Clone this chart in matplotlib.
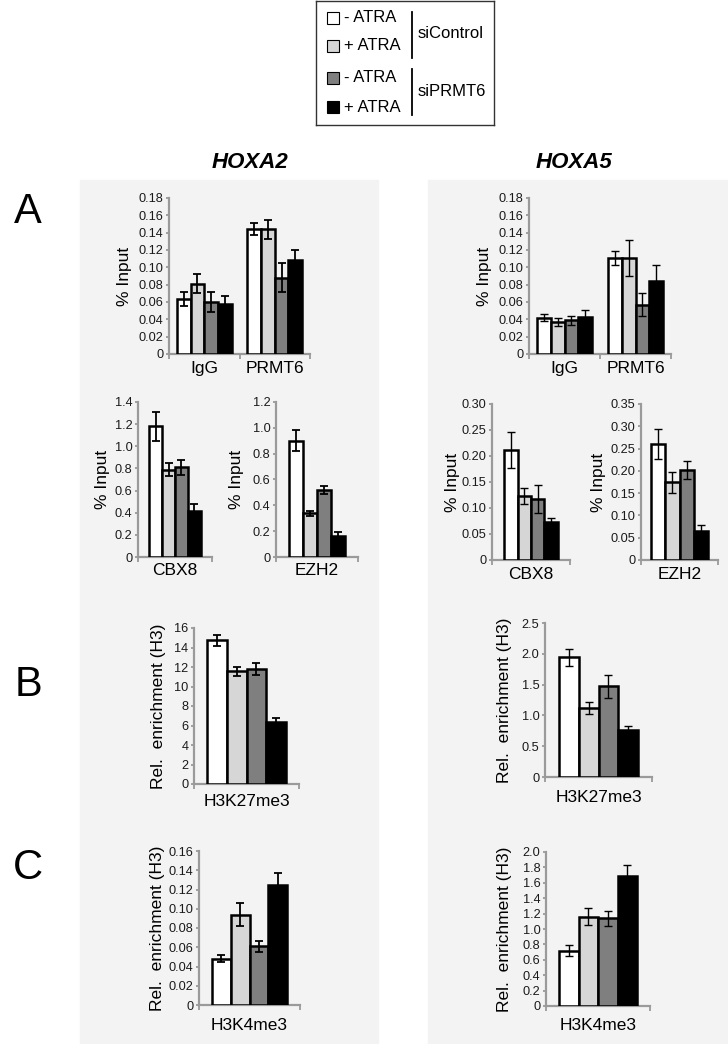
import matplotlib
matplotlib.use('Agg')
import matplotlib.pyplot as plt
from matplotlib.patches import Rectangle
import numpy as np

plt.rcParams['font.family'] = ['Liberation Sans', 'DejaVu Sans']

# conditions: siControl -ATRA, siControl +ATRA, siPRMT6 -ATRA, siPRMT6 +ATRA
conditions = ['- ATRA', '+ ATRA', '- ATRA', '+ ATRA']
colors = ['white', '#d6d6d6', '#7f7f7f', 'black']

# A, top row (IgG / PRMT6)
top_cats = ['IgG', 'PRMT6']
a2_top_vals = [[0.063, 0.081, 0.060, 0.058], [0.144, 0.144, 0.088, 0.109]]
a2_top_err = [[0.008, 0.011, 0.012, 0.009], [0.007, 0.011, 0.017, 0.011]]
a5_top_vals = [[0.042, 0.037, 0.039, 0.043], [0.111, 0.111, 0.057, 0.084]]
a5_top_err = [[0.004, 0.005, 0.005, 0.008], [0.008, 0.021, 0.013, 0.019]]

# A, bottom row (CBX8 / EZH2)
a2_cbx8_vals = [1.18, 0.79, 0.81, 0.42]
a2_cbx8_err = [0.13, 0.055, 0.065, 0.055]
a2_ezh2_vals = [0.90, 0.34, 0.52, 0.16]
a2_ezh2_err = [0.08, 0.02, 0.03, 0.03]
a5_cbx8_vals = [0.212, 0.123, 0.118, 0.074]
a5_cbx8_err = [0.035, 0.015, 0.027, 0.007]
a5_ezh2_vals = [0.261, 0.174, 0.202, 0.064]
a5_ezh2_err = [0.034, 0.023, 0.020, 0.014]

# B (H3K27me3)
a2_k27_vals = [14.75, 11.55, 11.8, 6.35]
a2_k27_err = [0.55, 0.5, 0.65, 0.4]
a5_k27_vals = [1.94, 1.12, 1.47, 0.77]
a5_k27_err = [0.13, 0.10, 0.18, 0.06]

# C (H3K4me3)
a2_k4_vals = [0.048, 0.094, 0.061, 0.125]
a2_k4_err = [0.0035, 0.0115, 0.006, 0.012]
a5_k4_vals = [0.72, 1.16, 1.14, 1.69]
a5_k4_err = [0.07, 0.11, 0.10, 0.14]

W, H = 728, 1044
fig = plt.figure(figsize=(W / 100, H / 100), dpi=100)
spine = '#9a9a9a'


def px(x0, y0, x1, y1):
    # pixel box -> figure fraction
    return [x0 / W, 1 - y1 / H, (x1 - x0) / W, (y1 - y0) / H]


# grey background panels
for x0, x1 in [(80, 378), (428, 728)]:
    fig.patches.append(Rectangle((x0 / W, 0), (x1 - x0) / W, 1 - 180 / H,
                                 transform=fig.transFigure, color='#f3f3f3', zorder=-5))


def bars(box, cats, vals, errs, ymax, step, dec, frac, ylabel, label_x, xpad, elw):
    ax = fig.add_axes(px(*box))
    ax.set_facecolor('none')
    vals = np.atleast_2d(vals)
    errs = np.atleast_2d(errs)
    n = len(cats)
    w = frac / 4
    x = np.arange(n)
    for i in range(4):
        ax.bar(x - frac / 2 + w * (i + 0.5), vals[:, i], w, yerr=errs[:, i],
               color=colors[i], edgecolor='black', linewidth=1.8, zorder=3,
               error_kw=dict(ecolor='black', elinewidth=elw, capsize=2.9, capthick=elw, zorder=4))
    ax.set_xlim(-0.5, n - 0.5)
    ax.set_ylim(0, ymax)
    ticks = np.arange(0, ymax + step / 2, step)
    ax.set_yticks(ticks)
    ax.set_yticklabels(['0' if t == 0 else f'{t:.{dec}f}' for t in ticks])
    ax.set_xticks(x)
    ax.set_xticklabels(cats, fontsize=12.5)
    ax.set_xticks(np.arange(n + 1) - 0.5, minor=True)
    ax.tick_params(axis='x', which='major', length=0, pad=xpad)
    ax.tick_params(axis='x', which='minor', length=3.5, width=1.3, color=spine)
    ax.tick_params(axis='y', length=2.5, width=1.3, color=spine, labelsize=9.2,
                   pad=1.5, labelcolor='#1a1a1a')
    for s in ['top', 'right']:
        ax.spines[s].set_visible(False)
    for s in ['left', 'bottom']:
        ax.spines[s].set_color(spine)
        ax.spines[s].set_linewidth(1.6)
    ax.set_ylabel(ylabel, fontsize=12.5)
    ax.yaxis.set_label_coords((label_x - box[0]) / (box[2] - box[0]), 0.5)
    ax.yaxis.label.set_verticalalignment('center')
    return ax


rel = 'Rel.  enrichment (H3)'
bars((169, 198, 310, 354), top_cats, a2_top_vals, a2_top_err, 0.18, 0.02, 2, 0.78, '% Input', 125, 5, 1.3)
bars((529, 198, 671, 354), top_cats, a5_top_vals, a5_top_err, 0.18, 0.02, 2, 0.78, '% Input', 485, 5, 1.0)
bars((138, 402, 212, 557), ['CBX8'], a2_cbx8_vals, a2_cbx8_err, 1.4, 0.2, 1, 0.70, '% Input', 102, 4, 1.3)
bars((276, 402, 358, 557), ['EZH2'], a2_ezh2_vals, a2_ezh2_err, 1.2, 0.2, 1, 0.68, '% Input', 237, 4, 1.3)
bars((492, 404, 570, 560), ['CBX8'], a5_cbx8_vals, a5_cbx8_err, 0.30, 0.05, 2, 0.68, '% Input', 452, 5, 1.0)
bars((641, 404, 718, 560), ['EZH2'], a5_ezh2_vals, a5_ezh2_err, 0.35, 0.05, 2, 0.73, '% Input', 599, 5, 1.0)
bars((194, 628, 299, 784), ['H3K27me3'], a2_k27_vals, a2_k27_err, 16, 2, 0, 0.75, rel, 159, 7, 1.3)
bars((545, 623, 652, 777), ['H3K27me3'], a5_k27_vals, a5_k27_err, 2.5, 0.5, 1, 0.73, rel, 505, 9, 1.0)
bars((199, 851, 300, 1005), ['H3K4me3'], a2_k4_vals, a2_k4_err, 0.16, 0.02, 2, 0.75, rel, 158, 9, 1.3)
bars((546, 852, 650, 1006), ['H3K4me3'], a5_k4_vals, a5_k4_err, 2.0, 0.2, 1, 0.75, rel, 505, 9, 1.0)

# gene titles and panel letters
fig.text(250 / W, 1 - 162 / H, 'HOXA2', fontsize=16, fontweight='bold', fontstyle='italic',
         ha='center', va='center')
fig.text(574 / W, 1 - 162 / H, 'HOXA5', fontsize=16, fontweight='bold', fontstyle='italic',
         ha='center', va='center')
for letter, y in [('A', 212), ('B', 685), ('C', 868)]:
    fig.text(28 / W, 1 - y / H, letter, fontsize=30, ha='center', va='center')

# legend box
lax = fig.add_axes(px(316, 1, 494, 125))
lax.set_xlim(316, 494)
lax.set_ylim(125, 1)
lax.set_xticks([])
lax.set_yticks([])
for s in lax.spines.values():
    s.set_linewidth(1.0)
    s.set_color('#333333')
for i, yc in enumerate([18, 46, 78, 107]):
    lax.add_patch(Rectangle((327, yc - 6), 12, 12, facecolor=colors[i], edgecolor='black', lw=0.8))
    lax.text(344, yc, conditions[i], fontsize=12, va='center', ha='left')
lax.plot([412, 412], [12, 58], color='black', lw=1.3)
lax.plot([412, 412], [69, 115], color='black', lw=1.3)
lax.text(418, 33, 'siControl', fontsize=12, va='center', ha='left')
lax.text(418, 92, 'siPRMT6', fontsize=12, va='center', ha='left')

fig.savefig('out.png', dpi=100)
